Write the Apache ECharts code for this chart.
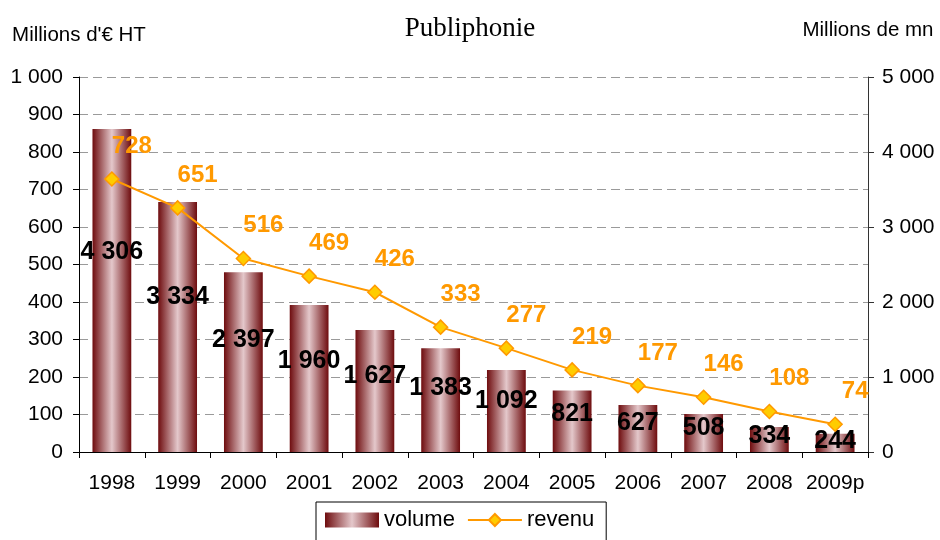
<!DOCTYPE html>
<html>
<head>
<meta charset="utf-8">
<script src="https://cdn.jsdelivr.net/npm/echarts@6/dist/echarts.min.js"></script>
<style>
  html, body { margin: 0; padding: 0; background: #fff; }
  #chart { width: 940px; height: 540px; }
</style>
</head>
<body>
<div id="chart"></div>
<script>
// données
var years = ['1998', '1999', '2000', '2001', '2002', '2003', '2004', '2005', '2006', '2007', '2008', '2009p'];
var volume = [4306, 3334, 2397, 1960, 1627, 1383, 1092, 821, 627, 508, 334, 244];
var revenu = [728, 651, 516, 469, 426, 333, 277, 219, 177, 146, 108, 74];

// 1000 -> "1 000"
function sep(v) {
    return String(v).replace(/\B(?=(\d{3})+(?!\d))/g, ' ');
}

var FONT = '"Liberation Sans", Arial, sans-serif';

var barColor = new echarts.graphic.LinearGradient(0, 0, 1, 0, [
    { offset: 0, color: '#6e0c0e' },
    { offset: 0.5, color: '#e4c8cb' },
    { offset: 1, color: '#6e0c0e' }
]);

var myChart = echarts.init(document.getElementById('chart'));

var option = {
    animation: false,
    backgroundColor: '#fff',
    textStyle: { fontFamily: FONT },
    title: {
        text: 'Publiphonie',
        left: 'center',
        top: 10,
        textStyle: {
            fontFamily: '"Liberation Serif", "Times New Roman", serif',
            fontWeight: 'normal',
            fontSize: 27,
            color: '#000'
        }
    },
    legend: {
        left: 316,
        top: 502,
        padding: [7, 12, 14, 9],
        itemGap: 12,
        itemWidth: 54,
        itemHeight: 15,
        borderColor: '#000',
        borderWidth: 1,
        borderRadius: 0,
        textStyle: { fontFamily: FONT, fontSize: 22, color: '#000' },
        data: [
            { name: 'volume', icon: 'rect' },
            { name: 'revenu' }
        ]
    },
    grid: {
        left: 79,
        right: 72,
        top: 77,
        bottom: 88
    },
    xAxis: {
        type: 'category',
        data: years,
        boundaryGap: true,
        axisLine: { lineStyle: { color: '#000', width: 1 } },
        axisTick: { show: true, length: 6, interval: 0, lineStyle: { color: '#000' } },
        axisLabel: { color: '#000', fontSize: 21, margin: 21, interval: 0, fontFamily: FONT }
    },
    yAxis: [
        {
            type: 'value',
            min: 0,
            max: 1000,
            interval: 100,
            position: 'left',
            name: "Millions d'€ HT",
            nameLocation: 'end',
            nameGap: 42,
            nameTextStyle: { color: '#000', fontSize: 20.5, align: 'center', verticalAlign: 'middle', fontFamily: FONT },
            axisLine: { show: true, lineStyle: { color: '#000', width: 1 } },
            axisTick: { show: true, length: 6, lineStyle: { color: '#000' } },
            axisLabel: { color: '#000', fontSize: 21, margin: 16, formatter: sep, fontFamily: FONT },
            splitLine: { show: true, lineStyle: { color: '#9a9a9a', type: [9, 5], width: 1 } }
        },
        {
            type: 'value',
            min: 0,
            max: 5000,
            interval: 1000,
            position: 'right',
            name: 'Millions de mn',
            nameLocation: 'end',
            nameGap: 47,
            nameTextStyle: { color: '#000', fontSize: 20.5, align: 'center', verticalAlign: 'middle', fontFamily: FONT },
            axisLine: { show: true, lineStyle: { color: '#333', width: 1 } },
            axisTick: { show: true, length: 6, lineStyle: { color: '#333' } },
            axisLabel: { color: '#000', fontSize: 21, margin: 14, formatter: sep, fontFamily: FONT },
            splitLine: { show: false }
        }
    ],
    series: [
        {
            name: 'volume',
            type: 'bar',
            yAxisIndex: 1,
            data: volume,
            barWidth: '59%',
            itemStyle: { color: barColor },
            label: {
                show: true,
                position: ['50%', '38%'],
                align: 'center',
                verticalAlign: 'middle',
                color: '#000',
                fontWeight: 'bold',
                fontSize: 25,
                fontFamily: FONT,
                formatter: function (p) { return sep(p.value); }
            },
            z: 2
        },
        {
            name: 'revenu',
            type: 'line',
            yAxisIndex: 0,
            data: revenu,
            symbol: 'diamond',
            symbolSize: 14,
            lineStyle: { color: '#ff9900', width: 2 },
            itemStyle: { color: '#ffcc00', borderColor: '#ff9900', borderWidth: 1.5 },
            label: {
                show: true,
                position: 'top',
                distance: 5,
                offset: [20, -8],
                color: '#ff9900',
                fontWeight: 'bold',
                fontSize: 24,
                fontFamily: FONT
            },
            z: 3
        }
    ]
};

myChart.setOption(option);
</script>
</body>
</html>
